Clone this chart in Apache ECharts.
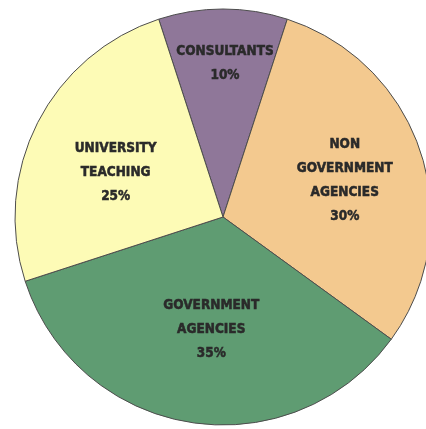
<!DOCTYPE html>
<html>
<head>
<meta charset="utf-8">
<script src="https://cdn.jsdelivr.net/npm/echarts@6/dist/echarts.min.js"></script>
<style>
  html, body { margin: 0; padding: 0; background: #ffffff; }
  #chart { width: 426px; height: 429px; }
</style>
</head>
<body>
<div id="chart"></div>
<script>
// Employment sectors, clockwise from the top
const categories = ['CONSULTANTS', 'NON GOVERNMENT AGENCIES', 'GOVERNMENT AGENCIES', 'UNIVERSITY TEACHING'];
const shares = [10, 30, 35, 25];
const colors = ['#8f7799', '#f3c98f', '#5f9c72', '#fdfbb6'];

// Nudges applied to the default inside label anchors, per slice
const labelNudge = [[2, -47], [20, -3], [5, 7], [-12, 4]];

const chart = echarts.init(document.getElementById('chart'), null, { renderer: 'canvas' });

chart.setOption({
  backgroundColor: '#ffffff',
  animation: false,
  series: [{
    type: 'pie',
    center: [223, 217],
    radius: 208,
    startAngle: 108,
    clockwise: true,
    itemStyle: { borderColor: '#4d4d4d', borderWidth: 1 },
    label: {
      show: true,
      position: 'inside',
      color: '#2a2a2a',
      fontFamily: '"DejaVu Sans Condensed", "DejaVu Sans", sans-serif',
      fontWeight: 'bold',
      fontSize: 13.5,
      lineHeight: 24,
      textBorderColor: '#2a2a2a',
      textBorderWidth: 0.5,
      align: 'center',
      formatter: p => p.name.split(' ').join('\n') + '\n' + p.value + '%'
    },
    labelLine: { show: false },
    labelLayout: p => ({ dx: labelNudge[p.dataIndex][0], dy: labelNudge[p.dataIndex][1] }),
    emphasis: { disabled: true },
    data: categories.map((name, i) => ({
      name: name,
      value: shares[i],
      itemStyle: { color: colors[i] }
    }))
  }]
});
</script>
</body>
</html>
